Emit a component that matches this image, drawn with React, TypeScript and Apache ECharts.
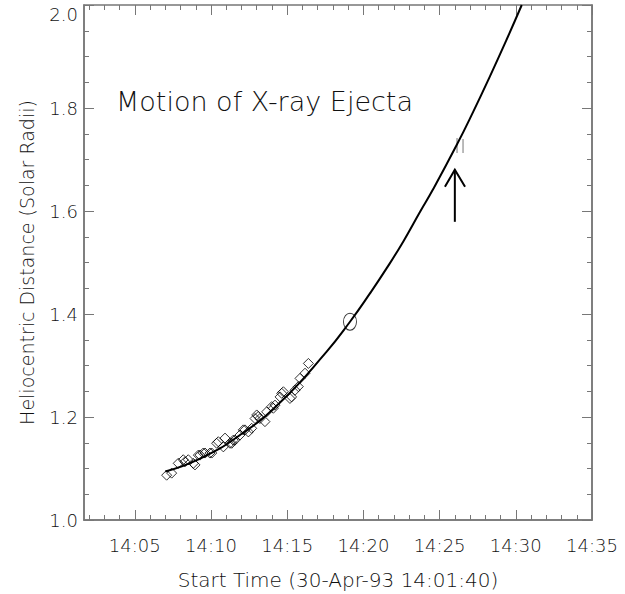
import React, { useEffect, useRef } from "react";
import * as echarts from "echarts";

// x values are minutes after 14:00 (axis spans 14:01:40 .. 14:35:00)
const X_MIN = 5 / 3;
const X_MAX = 35;
const Y_MIN = 1.0;
const Y_MAX = 2.0;
const xMajorTicks = [5, 10, 15, 20, 25, 30, 35];
const xMinorTicks = [2, 3, 4, 6, 7, 8, 9, 11, 12, 13, 14, 16, 17, 18, 19, 21, 22, 23, 24, 26, 27, 28, 29, 31, 32, 33, 34];

const diamondTimes = [7.09, 7.42, 7.85, 8.18, 8.29, 8.51, 8.84, 8.95, 9.17, 9.28, 9.49, 9.61, 9.93, 10.05, 10.37, 10.48, 10.81, 10.92, 11.25, 11.36, 11.46, 11.57, 11.9, 12.12, 12.23, 12.45, 12.67, 12.89, 13.0, 13.1, 13.21, 13.54, 13.65, 13.98, 14.09, 14.2, 14.53, 14.64, 14.75, 15.18, 15.29, 15.51, 15.73, 15.84, 16.17, 16.39];
const diamondRadii = [1.087, 1.091, 1.11, 1.117, 1.113, 1.117, 1.11, 1.107, 1.126, 1.126, 1.13, 1.13, 1.13, 1.13, 1.149, 1.152, 1.142, 1.159, 1.149, 1.149, 1.155, 1.155, 1.165, 1.175, 1.175, 1.171, 1.178, 1.197, 1.204, 1.201, 1.197, 1.191, 1.21, 1.22, 1.217, 1.223, 1.239, 1.246, 1.249, 1.236, 1.239, 1.252, 1.259, 1.275, 1.285, 1.304];

const fitTimes = [7.0, 9.28, 11.9, 14.53, 17.59, 19.12, 20.43, 21.53, 22.62, 23.71, 24.59, 26.12, 27.21, 28.31, 29.4, 30.39];
const fitRadii = [1.094, 1.119, 1.165, 1.228, 1.327, 1.385, 1.44, 1.489, 1.541, 1.598, 1.643, 1.728, 1.793, 1.862, 1.933, 2.0];

const circlePoint = [19.12, 1.385];
const markerPoint = [26.34, 1.727];
const arrowTip = [26.0, 1.68];
const arrowBase = [26.0, 1.579];
const arrowWingLeft = [25.35, 1.647];
const arrowWingRight = [26.67, 1.647];

const TITLE = "Motion of X-ray Ejecta";
const X_NAME = "Start Time (30-Apr-93 14:01:40)";
const Y_NAME = "Heliocentric Distance (Solar Radii)";

const FONT = "DejaVu Sans";
const AXIS_COLOR = "#777";
const TEXT_COLOR = "#111";
const PLOT_HEIGHT_PX = 515;
const MAJOR_TICK_PX = 10;
const MINOR_TICK_PX = 5;

export default function App() {
  const ref = useRef<HTMLDivElement>(null);
  useEffect(() => {
    if (!ref.current) return;
    const chart = echarts.init(ref.current, undefined, { renderer: "svg" });
    const pad = (v: number) => (v < 10 ? "0" + v : "" + v);
    const perPx = (Y_MAX - Y_MIN) / PLOT_HEIGHT_PX;
    const tickLines: any[] = [];
    const addTicks = (vals: number[], px: number) => {
      const d = px * perPx;
      vals.forEach((v) => {
        tickLines.push({ coords: [[v, Y_MIN], [v, Y_MIN + d]] });
        tickLines.push({ coords: [[v, Y_MAX], [v, Y_MAX - d]] });
      });
    };
    addTicks(xMajorTicks, MAJOR_TICK_PX);
    addTicks(xMinorTicks, MINOR_TICK_PX);

    const option: any = {
      animation: false,
      backgroundColor: "#fff",
      textStyle: { fontFamily: FONT },
      title: {
        text: TITLE,
        left: 116,
        top: 88,
        padding: 0,
        textStyle: { fontFamily: FONT, fontSize: 27, fontWeight: 300, color: TEXT_COLOR },
      },
      grid: {
        left: 84,
        right: 33,
        top: 5,
        bottom: 74,
        show: true,
        borderColor: AXIS_COLOR,
        borderWidth: 1.5,
        backgroundColor: "transparent",
        outerBoundsMode: "none",
      },
      xAxis: {
        type: "value",
        min: X_MIN,
        max: X_MAX,
        position: "bottom",
        name: X_NAME,
        nameLocation: "middle",
        nameGap: 50,
        nameTextStyle: { fontFamily: FONT, fontSize: 20, fontWeight: 300, color: TEXT_COLOR },
        splitLine: { show: false },
        axisLine: { show: true, lineStyle: { color: AXIS_COLOR, width: 1.5 } },
        axisTick: { show: false },
        axisLabel: {
          show: true,
          customValues: xMajorTicks,
          margin: 16,
          fontFamily: FONT,
          fontSize: 18,
          fontWeight: 300,
          color: TEXT_COLOR,
          formatter: (v: number) => "14:" + pad(Math.round(v)),
        },
      },
      yAxis: [
        {
          type: "value",
          position: "left",
          min: Y_MIN,
          max: Y_MAX,
          interval: 0.2,
          name: Y_NAME,
          nameLocation: "middle",
          nameRotate: 90,
          nameGap: 48,
          nameTextStyle: { fontFamily: FONT, fontSize: 19, fontWeight: 300, color: TEXT_COLOR },
          splitLine: { show: false },
          axisLine: { show: true, lineStyle: { color: AXIS_COLOR, width: 1.5 } },
          axisTick: { show: true, inside: true, length: 10, lineStyle: { color: AXIS_COLOR } },
          minorTick: { show: true, splitNumber: 4, length: 5, lineStyle: { color: AXIS_COLOR } },
          axisLabel: {
            margin: 6,
            fontFamily: FONT,
            fontSize: 18,
            fontWeight: 300,
            color: TEXT_COLOR,
            verticalAlignMaxLabel: "top",
            formatter: (v: number) => v.toFixed(1),
          },
        },
        {
          type: "value",
          position: "right",
          min: Y_MIN,
          max: Y_MAX,
          interval: 0.2,
          splitLine: { show: false },
          axisLine: { show: true, lineStyle: { color: AXIS_COLOR, width: 1.5 } },
          axisTick: { show: true, inside: true, length: 10, lineStyle: { color: AXIS_COLOR } },
          minorTick: { show: true, splitNumber: 4, length: 5, lineStyle: { color: AXIS_COLOR } },
          axisLabel: { show: false },
        },
      ],
      series: [
        {
          // x-axis tick marks, bottom and top, pointing inward
          type: "lines",
          coordinateSystem: "cartesian2d",
          xAxisIndex: 0,
          yAxisIndex: 0,
          silent: true,
          lineStyle: { color: AXIS_COLOR, width: 1, opacity: 1 },
          data: tickLines,
        },
        {
          type: "scatter",
          xAxisIndex: 0,
          yAxisIndex: 0,
          symbol: "diamond",
          symbolSize: 10,
          silent: true,
          itemStyle: { color: "rgba(0,0,0,0)", borderColor: "#000", borderWidth: 1 },
          data: diamondTimes.map((t, i) => [t, diamondRadii[i]]),
        },
        {
          type: "line",
          xAxisIndex: 0,
          yAxisIndex: 0,
          smooth: true,
          showSymbol: false,
          silent: true,
          lineStyle: { color: "#000", width: 2 },
          data: fitTimes.map((t, i) => [t, fitRadii[i]]),
        },
        {
          type: "scatter",
          xAxisIndex: 0,
          yAxisIndex: 0,
          symbol: "path://M0,-1 A1,1 0 1,1 0,1 A1,1 0 1,1 0,-1 Z",
          symbolSize: [13, 17],
          silent: true,
          itemStyle: { color: "rgba(0,0,0,0)", borderColor: "#000", borderWidth: 1 },
          data: [circlePoint],
        },
        {
          type: "scatter",
          xAxisIndex: 0,
          yAxisIndex: 0,
          symbol: "path://M0,0 L0,15 M6,1 L6,15",
          symbolSize: [6, 15],
          silent: true,
          itemStyle: { color: "rgba(0,0,0,0)", borderColor: "#222", borderWidth: 1.2 },
          data: [markerPoint],
        },
        {
          type: "lines",
          coordinateSystem: "cartesian2d",
          xAxisIndex: 0,
          yAxisIndex: 0,
          polyline: true,
          silent: true,
          lineStyle: { color: "#000", width: 2, opacity: 1 },
          data: [
            { coords: [arrowWingLeft, arrowTip, arrowWingRight] },
            { coords: [arrowTip, arrowBase] },
          ],
        },
      ],
    };
    chart.setOption(option);
    return () => chart.dispose();
  }, []);
  return (
    <div
      ref={ref}
      style={{ position: "fixed", left: 0, top: 0, width: 625, height: 594, background: "#fff" }}
    />
  );
}
